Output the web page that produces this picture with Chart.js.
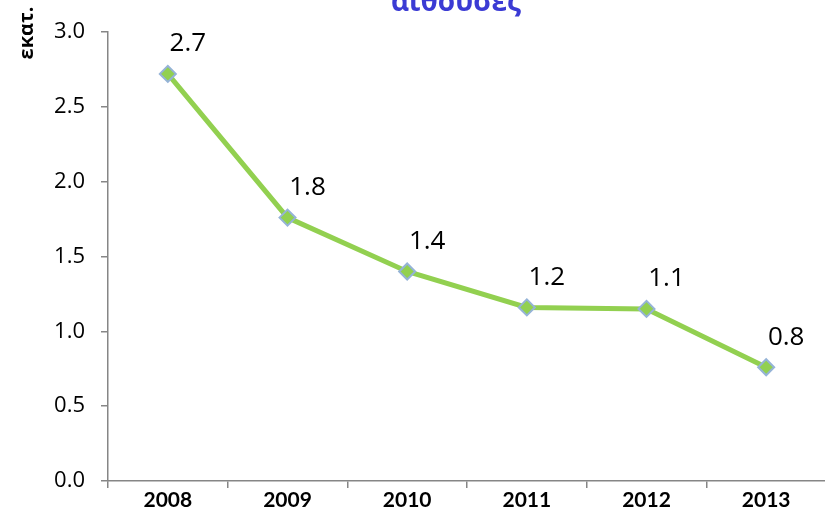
<!DOCTYPE html>
<html>
<head>
<meta charset="utf-8">
<script src="https://cdn.jsdelivr.net/npm/chart.js@4.4.1/dist/chart.umd.min.js"></script>
<style>
  html, body { margin: 0; padding: 0; background: #fff; }
  #wrap { position: relative; width: 825px; height: 526px; overflow: hidden; }
  #chart { position: absolute; left: 0; top: 0; }
</style>
</head>
<body>
<div id="wrap">
  <canvas id="chart" width="840" height="526" style="width:840px;height:526px"></canvas>
</div>
<script>
// data
const years = ['2008', '2009', '2010', '2011', '2012', '2013'];
const visitors = [2.72, 1.76, 1.40, 1.16, 1.15, 0.76];
const valueLabels = ['2.7', '1.8', '1.4', '1.2', '1.1', '0.8'];
const yTicks = [0, 0.5, 1.0, 1.5, 2.0, 2.5, 3.0];

const titleText = 'αίθουσες';
const yAxisText = 'εκατ.';

// title (cut off at top) + y axis label
const extraText = {
  id: 'extraText',
  afterDraw(chart) {
    const ctx = chart.ctx;
    ctx.save();
    ctx.fillStyle = '#3b3bd4';
    ctx.font = 'bold 28px "Open Sans"';
    ctx.textAlign = 'center';
    ctx.textBaseline = 'alphabetic';
    ctx.fillText(titleText, 456, 11);

    ctx.fillStyle = '#000';
    ctx.font = 'bold 20px "Open Sans"';
    ctx.translate(27, 33);
    ctx.rotate(-Math.PI / 2);
    ctx.textAlign = 'center';
    ctx.textBaseline = 'middle';
    ctx.fillText(yAxisText, 0, 0);
    ctx.restore();
  }
};

// value labels above right of each point
const valueText = {
  id: 'valueText',
  afterDatasetsDraw(chart) {
    const ctx = chart.ctx;
    const meta = chart.getDatasetMeta(0);
    ctx.save();
    ctx.fillStyle = '#000';
    ctx.font = '26px "Open Sans"';
    ctx.textAlign = 'center';
    ctx.textBaseline = 'middle';
    meta.data.forEach((pt, i) => {
      ctx.fillText(valueLabels[i], pt.x + 20, pt.y - 30);
    });
    ctx.restore();
  }
};

const ctx = document.getElementById('chart').getContext('2d');
const myChart = new Chart(ctx, {
  type: 'line',
  data: {
    labels: years,
    datasets: [{
      data: visitors,
      borderColor: '#92d050',
      borderWidth: 5,
      pointStyle: 'rectRot',
      pointRadius: 8,
      pointHoverRadius: 8,
      pointBackgroundColor: '#92d050',
      pointBorderColor: '#95b3d7',
      pointBorderWidth: 2,
      tension: 0
    }]
  },
  options: {
    responsive: false,
    animation: false,
    layout: { padding: { top: 32, right: 14, left: 0, bottom: 0 } },
    plugins: {
      legend: { display: false },
      title: { display: false },
      tooltip: { enabled: false }
    },
    scales: {
      x: {
        offset: true,
        grid: { display: true, drawOnChartArea: false, offset: true, color: '#868686', tickLength: 7, lineWidth: 1.5 },
        border: { color: '#868686', width: 1.5 },
        ticks: { color: '#000', font: { family: 'Lato', weight: 'bold', size: 21 }, padding: 0, maxRotation: 0 },
        afterFit(scale) { scale.height = 45; }
      },
      y: {
        min: 0,
        max: 3,
        afterBuildTicks(scale) { scale.ticks = yTicks.map(v => ({ value: v })); },
        grid: { display: true, drawOnChartArea: false, color: '#868686', tickLength: 7, lineWidth: 1.5 },
        border: { color: '#868686', width: 1.5 },
        ticks: {
          color: '#000',
          font: { family: 'Open Sans', size: 22 },
          padding: 16,
          callback: v => v.toFixed(1)
        },
        afterFit(scale) { scale.width = 108; }
      }
    }
  },
  plugins: [extraText, valueText]
});
</script>
</body>
</html>
